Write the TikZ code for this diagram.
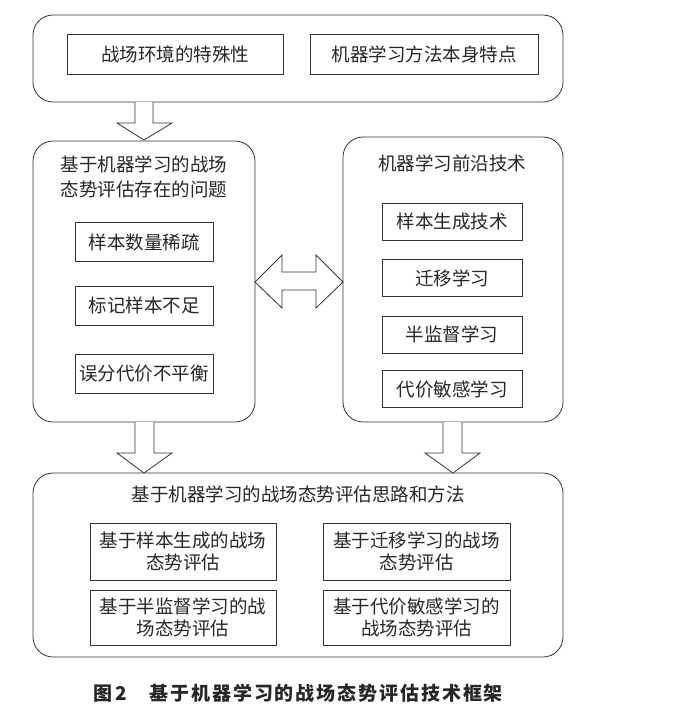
\documentclass[tikz,border=0pt]{standalone}
\usepackage{fontspec}
\setmainfont{Noto Sans CJK SC}
\newfontfamily\capfont{Noto Sans CJK SC}[LetterSpace=10]
\begin{document}
\begin{tikzpicture}[x=1pt,y=-1pt,
  line width=0.8pt,
  every node/.style={inner sep=0pt,outer sep=0pt,font=\fontsize{18.5}{22}\selectfont,align=center,text=black!85},
  outer/.style={draw=black!80,rounded corners=20pt},
  inbox/.style={draw=black!80},
  fat/.style={draw=black!80,fill=white,line join=miter}]
\useasboundingbox (0,0) rectangle (677,714);
% outer containers
\node[outer,minimum width=530pt,minimum height=87pt] (top) at (298,58.5) {};
\node[outer,minimum width=222pt,minimum height=281pt] (lmid) at (144,281.5) {};
\node[outer,minimum width=220pt,minimum height=285pt] (rmid) at (453,279.5) {};
\node[outer,minimum width=530pt,minimum height=184pt] (bot) at (298,565) {};
% top inner
\node[inbox,minimum width=216pt,minimum height=40pt] (env) at (175,54) {战场环境的特殊性};
\node[inbox,minimum width=228pt,minimum height=40pt] (ml) at (424,54) {机器学习方法本身特点};
% left mid
\node[font=\fontsize{18.5}{25}\selectfont] (ltitle) at (144,177) {基于机器学习的战场\\态势评估存在的问题};
\node[inbox,minimum width=138pt,minimum height=39pt] (l1) at (144,242) {样本数量稀疏};
\node[inbox,minimum width=138pt,minimum height=39pt] (l2) at (144,305.5) {标记样本不足};
\node[inbox,minimum width=138pt,minimum height=39pt] (l3) at (144,374) {误分代价不平衡};
% right mid
\node (rtitle) at (452,163) {机器学习前沿技术};
\node[inbox,minimum width=140pt,minimum height=37pt] (r1) at (452,221.5) {样本生成技术};
\node[inbox,minimum width=140pt,minimum height=37pt] (r2) at (452,278) {迁移学习};
\node[inbox,minimum width=140pt,minimum height=37pt] (r3) at (452,334.5) {半监督学习};
\node[inbox,minimum width=140pt,minimum height=37pt] (r4) at (452,389) {代价敏感学习};
% bottom
\node (btitle) at (298,494) {基于机器学习的战场态势评估思路和方法};
\node[inbox,minimum width=186pt,minimum height=57pt] (b1) at (183,551.5) {基于样本生成的战场\\态势评估};
\node[inbox,minimum width=187pt,minimum height=57pt] (b2) at (416.5,551.5) {基于迁移学习的战场\\态势评估};
\node[inbox,minimum width=186pt,minimum height=55pt] (b3) at (183,617.5) {基于半监督学习的战\\场态势评估};
\node[inbox,minimum width=187pt,minimum height=55pt] (b4) at (416.5,617.5) {基于代价敏感学习的\\战场态势评估};
% caption
\node[font=\capfont\bfseries\fontsize{19}{22}\selectfont,anchor=west] (cap) at (93,693) {图\hspace{4pt}2\hspace{22pt}基于机器学习的战场态势评估技术框架};
% fat arrows
\draw[fat] (135,102) -- (135,123) -- (117,123) -- (144,140) -- (172,123) -- (153,123) -- (153,102);
\draw[fat] (135,422) -- (135,453) -- (117,453) -- (144,473) -- (172,453) -- (154,453) -- (154,422);
\draw[fat] (443,422) -- (443,453) -- (425,453) -- (453,473) -- (480,453) -- (462,453) -- (462,422);
\draw[fat] (lmid.east |- 0,282) -- (282,255) -- (282,272) -- (316,272) -- (316,255) -- (rmid.west |- 0,282) -- (316,308) -- (316,290) -- (282,290) -- (282,308) -- cycle;
\end{tikzpicture}
\end{document}
